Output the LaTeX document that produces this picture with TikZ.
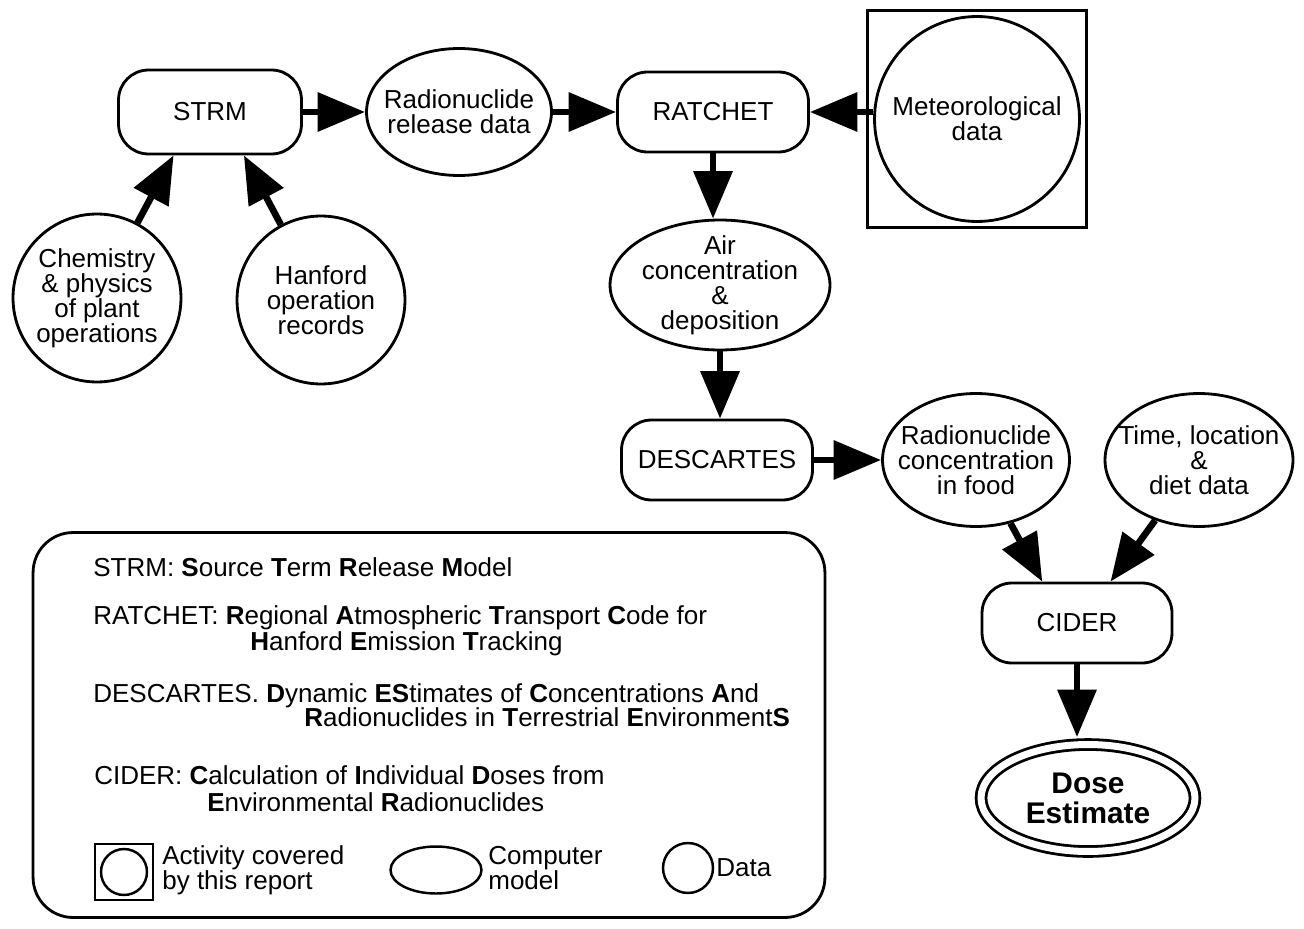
\documentclass[tikz,border=0pt]{standalone}
\usepackage{fontspec}
\setmainfont{Liberation Sans}
\usepackage{tikz}
\usetikzlibrary{arrows.meta,shapes.geometric}

\newcommand\nodefont{\fontsize{14.8}{14.2}\selectfont}
\newcommand\dosefont{\fontsize{17}{17}\selectfont\bfseries}

\begin{document}
\begin{tikzpicture}[
    x=0.02cm, y=-0.02cm,
    model/.style={
      rectangle, rounded corners=0.6cm,
      draw=black, line width=1.6pt, fill=white,
      align=center, font=\nodefont, inner sep=0pt,
      minimum width=3.8cm, minimum height=1.6cm,
    },
    dat/.style={
      ellipse, draw=black, line width=1.6pt, fill=white,
      inner sep=0pt,
    },
    datc/.style={
      circle, draw=black, line width=1.6pt, fill=white,
      inner sep=0pt,
    },
    legtext/.style={anchor=base west, font=\nodefont, inner sep=0pt},
    every label/.style={align=center, font=\nodefont, inner sep=0pt},
    arr/.style={line width=3.8pt, -{Triangle[length=0.95cm, width=0.76cm]}},
  ]
  \useasboundingbox (0,0) rectangle (1304,929);

  % Source term
  \node[model, minimum width=3.66cm, minimum height=1.68cm] (strm) at (210,112) {STRM};
  \node[datc, minimum size=3.36cm, label={center:{Chemistry\\\& physics\\of plant\\operations}}] (chem) at (97,298) {};
  \node[datc, minimum size=3.36cm, label={center:{Hanford\\operation\\records}}] (hanford) at (321,300) {};
  \node[dat, minimum width=3.7cm, minimum height=2.54cm, label={center:{Radionuclide\\release data}}] (relData) at (459,112) {};

  % Atmospheric transport
  \node[model, minimum width=3.82cm] (ratchet) at (713,112) {RATCHET};
  \node[draw, line width=1.4pt, minimum width=4.38cm, minimum height=4.34cm] (meteoBox) at (977,119) {};
  \node[datc, minimum size=4.1cm, label={center:{Meteorological\\data}}] (meteo) at (977,119) {};
  \node[dat, minimum width=4.4cm, minimum height=2.6cm, label={center:{Air\\concentration\\\&\\deposition}}] (air) at (720,285) {};

  % Environmental accumulation and dose
  \node[model, minimum width=3.82cm] (descartes) at (717,460) {DESCARTES};
  \node[dat, minimum width=3.74cm, minimum height=2.66cm, label={center:{Radionuclide\\concentration\\in food}}] (food) at (976,460) {};
  \node[dat, minimum width=3.76cm, minimum height=2.66cm, label={center:{Time, location\\\&\\diet data}}] (timeData) at (1199,460) {};
  \node[model, minimum width=3.8cm] (cider) at (1077,623) {CIDER};
  \node[dat, double, double distance=0.14cm, minimum width=4.28cm, minimum height=2.14cm,
        label={[font=\dosefont]center:{Dose\\Estimate}}] (dose) at (1088,798) {};

  % Connectors
  \draw[arr] (strm) -- (relData);
  \draw[arr] (relData) -- (ratchet);
  \draw[arr] (ratchet.east -| meteo.west) -- (ratchet.east);
  \draw[arr] (chem) -- (strm.230);
  \draw[arr] (hanford) -- (strm.-52);
  \draw[arr] (ratchet.south) -- (ratchet.south |- air.north);
  \draw[arr] (air.south) -- (air.south |- descartes.north);
  \draw[arr] (descartes) -- (food);
  \draw[arr] (food) -- (cider.130);
  \draw[arr] (timeData) -- (cider.51);
  \draw[arr, shorten >=0.12cm] (cider.south) -- (cider.south |- dose.north);

  % Legend
  \node[draw, line width=1.6pt, rounded corners=0.8cm, minimum width=15.84cm, minimum height=7.7cm] (legend) at (429,725) {};
  \node[legtext] (legStrm) at (93,576) {STRM: \textbf{S}ource \textbf{T}erm \textbf{R}elease \textbf{M}odel};
  \node[legtext] (legRatA) at (93,624) {RATCHET: \textbf{R}egional \textbf{A}tmospheric \textbf{T}ransport \textbf{C}ode for};
  \node[legtext] (legRatB) at (250,650) {\textbf{H}anford \textbf{E}mission \textbf{T}racking};
  \node[legtext] (legDesA) at (93,702) {DESCARTES. \textbf{D}ynamic \textbf{ES}timates of \textbf{C}oncentrations \textbf{A}nd};
  \node[legtext] (legDesB) at (304,726) {\textbf{R}adionuclides in \textbf{T}errestrial \textbf{E}nvironment\textbf{S}};
  \node[legtext] (legCidA) at (94,784) {CIDER: \textbf{C}alculation of \textbf{I}ndividual \textbf{D}oses from};
  \node[legtext] (legCidB) at (207,811) {\textbf{E}nvironmental \textbf{R}adionuclides};

  % Legend symbols
  \node[draw, line width=1.4pt, minimum width=1.16cm, minimum height=1.12cm] (keyAct) at (124,872) {};
  \node[datc, line width=1.4pt, minimum size=0.92cm] (keyActIn) at (124,872) {};
  \node[anchor=west, align=left, font=\nodefont, inner sep=0pt] (keyActTxt) at (162,870) {Activity covered\\by this report};
  \node[dat, line width=1.4pt, minimum width=1.82cm, minimum height=0.94cm] (keyModel) at (436,870) {};
  \node[anchor=west, align=left, font=\nodefont, inner sep=0pt] (keyModelTxt) at (488,868) {Computer\\model};
  \node[datc, line width=1.4pt, minimum size=1cm] (keyData) at (688,868) {};
  \node[anchor=west, font=\nodefont, inner sep=0pt] (keyDataTxt) at (716,868) {Data};

\end{tikzpicture}
\end{document}
